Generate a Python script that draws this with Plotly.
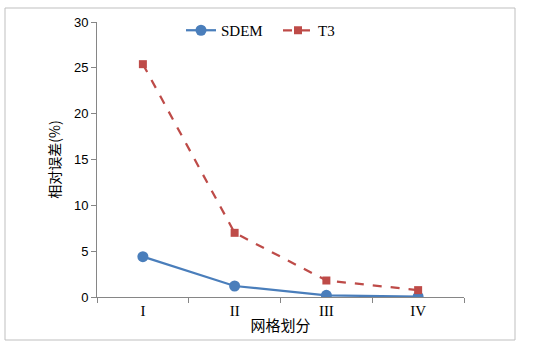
import plotly.graph_objects as go

categories = ["I", "II", "III", "IV"]
sdem = [4.4, 1.2, 0.18, 0.03]
t3 = [25.4, 7.0, 1.8, 0.75]
y_ticks = [0, 5, 10, 15, 20, 25, 30]

W, H = 534, 352
L, R, T, B = 97, 70, 22, 55
pw, ph = W - L - R, H - T - B

fig = go.Figure()
fig.add_trace(go.Scatter(
    x=categories, y=sdem, name="SDEM", mode="lines+markers",
    line=dict(color="#4a7ebb", width=2.25),
    marker=dict(symbol="circle", size=11, color="#4a7ebb"),
))
fig.add_trace(go.Scatter(
    x=categories, y=t3, name="T3", mode="lines+markers",
    line=dict(color="#be4b48", width=2.25, dash="dash"),
    marker=dict(symbol="square", size=8, color="#be4b48"),
))

def px_x(x):
    return (x - L) / pw

def px_y(y):
    return (H - B - y) / ph

fig.add_shape(type="rect", xref="paper", yref="paper",
              x0=px_x(5), x1=px_x(515), y0=px_y(340), y1=px_y(8),
              line=dict(color="#bfbfbf", width=1), fillcolor="rgba(0,0,0,0)",
              layer="below")

fig.update_layout(
    width=W, height=H,
    margin=dict(l=L, r=R, t=T, b=B),
    paper_bgcolor="white", plot_bgcolor="white",
    showlegend=True,
    legend=dict(orientation="h", x=px_x(181), y=px_y(14), xanchor="left", yanchor="top",
                font=dict(family="Liberation Serif", size=15, color="#000000"),
                bgcolor="rgba(0,0,0,0)", itemwidth=30,
                entrywidth=52, entrywidthmode="pixels"),
    xaxis=dict(
        type="category", range=[-0.5, 3.5],
        showline=True, linecolor="#868686", linewidth=1,
        ticks="outside", ticklen=5, tickcolor="#868686", tickson="boundaries",
        showgrid=False, zeroline=False,
        tickfont=dict(family="Liberation Serif", size=15, color="#000000"),
        title=dict(text="网格划分", standoff=2,
                   font=dict(family="Noto Sans CJK SC", size=15, color="#000000")),
    ),
    yaxis=dict(
        range=[0, 30], tickvals=y_ticks,
        showline=True, linecolor="#868686", linewidth=1,
        ticks="outside", ticklen=5, tickcolor="#868686",
        showgrid=False, zeroline=False,
        tickfont=dict(family="Liberation Sans", size=13, color="#000000"),
        title=dict(text="相对误差(%)", standoff=10,
                   font=dict(family="Noto Sans CJK SC", size=14, color="#000000")),
    ),
)

fig.write_html("out.html")
